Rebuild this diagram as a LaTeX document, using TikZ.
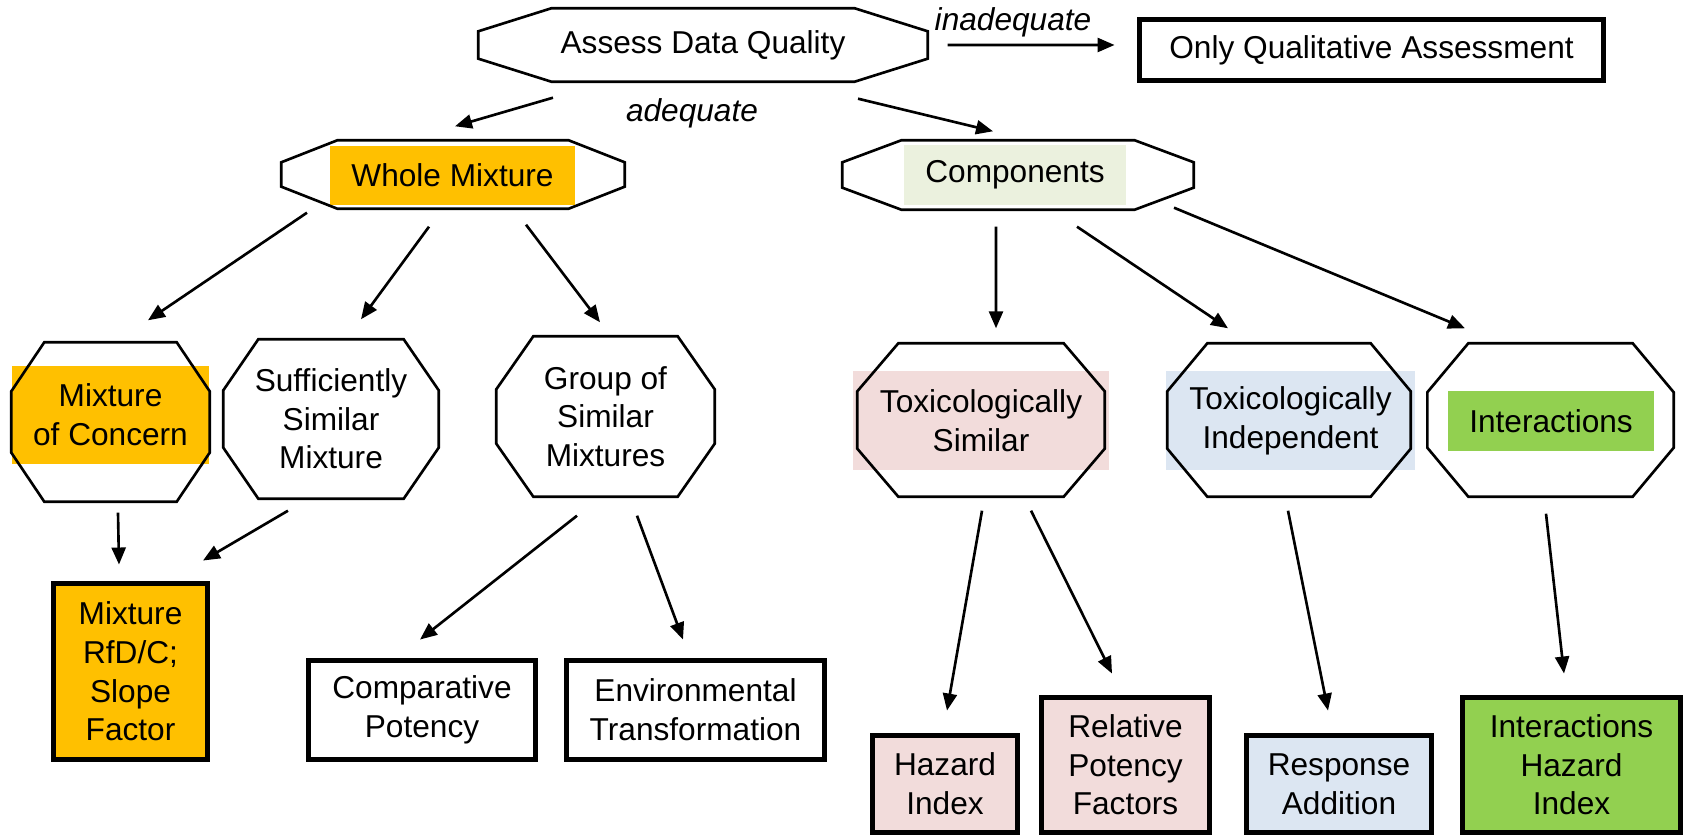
\documentclass[tikz,border=0pt]{standalone}
\usepackage{fontspec}
\setmainfont{Liberation Sans}
\usetikzlibrary{arrows.meta}

\definecolor{wmorange}{HTML}{FFC000}
\definecolor{compgreen}{HTML}{EBF1DE}
\definecolor{tspink}{HTML}{F2DCDB}
\definecolor{tiblue}{HTML}{DCE6F2}
\definecolor{intgreen}{HTML}{92D050}

\tikzset{
every node/.style={
font=\fontsize{9}{11}\selectfont
}}

% octagon round a node: name, x cut, y cut
\newcommand\octframe[3]{%
\draw[line width=0.75pt] ([xshift=#2]#1.north west) -- ([xshift=-#2]#1.north east)
  -- ([yshift=-#3]#1.north east) -- ([yshift=#3]#1.south east)
  -- ([xshift=-#2]#1.south east) -- ([xshift=#2]#1.south west)
  -- ([yshift=#3]#1.south west) -- ([yshift=-#3]#1.north west) -- cycle;}

\begin{document}
\begin{tikzpicture}[x=1cm, y=-1cm,
oct/.style = {rectangle, inner sep=0pt, align=center},
hl/.style = {rectangle, fill=#1, inner sep=0pt, align=center},
res/.style = {rectangle, draw=black, line width=1.4pt, inner sep=0pt, align=center},
lbl/.style = {font=\fontsize{9}{11}\selectfont\itshape},
arr/.style = {line width=0.75pt, -{Triangle[length=1.7mm,width=1.4mm]}}]

\useasboundingbox (0,0) rectangle (16.89,8.38);

\node[oct, minimum width=4.48cm, minimum height=0.72cm] (ad) at (7.03,0.45) {Assess Data Quality};
\octframe{ad}{7.3mm}{2.3mm}
\node[res, minimum width=4.64cm, minimum height=0.61cm] (oqa) at (13.715,0.50) {Only Qualitative Assessment};
\node[lbl] (inad) at (10.13,0.22) {inadequate};
\node[lbl] (adeq) at (6.92,1.13) {adequate};

\node[hl=wmorange, minimum width=2.45cm, minimum height=0.59cm] (wm) at (4.525,1.755) {Whole Mixture};
\node[oct, minimum width=3.42cm, minimum height=0.67cm] (wm-o) at (4.53,1.745) {};
\octframe{wm-o}{5.6mm}{2.2mm}
\node[hl=compgreen, minimum width=2.22cm, minimum height=0.60cm] (comp) at (10.15,1.75) {Components};
\node[oct, minimum width=3.50cm, minimum height=0.68cm] (comp-o) at (10.18,1.75) {};
\octframe{comp-o}{5.9mm}{2.2mm}

% whole mixture side
\node[hl=wmorange, minimum width=1.97cm, minimum height=0.98cm] (moc) at (1.105,4.15) {Mixture\\of Concern};
\node[oct, minimum width=1.97cm, minimum height=1.58cm] (moc-o) at (1.105,4.22) {};
\octframe{moc-o}{3.3mm}{4.9mm}
\node[oct, minimum width=2.14cm, minimum height=1.58cm] (ssm) at (3.31,4.19) {Sufficiently\\Similar\\Mixture};
\octframe{ssm}{3.5mm}{5.1mm}
\node[oct, minimum width=2.17cm, minimum height=1.59cm] (gsm) at (6.055,4.165) {Group of\\Similar\\Mixtures};
\octframe{gsm}{3.7mm}{5.3mm}

% components side
\node[hl=tspink, minimum width=2.56cm, minimum height=0.99cm] (ts) at (9.81,4.205) {Toxicologically\\Similar};
\node[oct, minimum width=2.46cm, minimum height=1.52cm] (ts-o) at (9.81,4.20) {};
\octframe{ts-o}{4.1mm}{4.8mm}
\node[hl=tiblue, minimum width=2.49cm, minimum height=0.99cm] (ti) at (12.905,4.205) {Toxicologically\\Independent};
\node[oct, minimum width=2.42cm, minimum height=1.52cm] (ti-o) at (12.89,4.20) {};
\octframe{ti-o}{4.0mm}{4.8mm}
\node[hl=intgreen, minimum width=2.06cm, minimum height=0.60cm] (int) at (15.51,4.21) {Interactions};
\node[oct, minimum width=2.45cm, minimum height=1.52cm] (int-o) at (15.505,4.20) {};
\octframe{int-o}{4.1mm}{4.9mm}

% results
\node[res, fill=wmorange, minimum width=1.54cm, minimum height=1.76cm] (rfd) at (1.305,6.715) {Mixture\\RfD/C;\\Slope\\Factor};
\node[res, minimum width=2.27cm, minimum height=0.99cm] (cp) at (4.22,7.10) {Comparative\\Potency};
\node[res, minimum width=2.58cm, minimum height=0.99cm] (et) at (6.955,7.10) {Environmental\\Transformation};
\node[res, fill=tspink, minimum width=1.45cm, minimum height=0.97cm] (hi) at (9.45,7.84) {Hazard\\Index};
\node[res, fill=tspink, minimum width=1.68cm, minimum height=1.35cm] (rpf) at (11.255,7.65) {Relative\\Potency\\Factors};
\node[res, fill=tiblue, minimum width=1.85cm, minimum height=0.97cm] (ra) at (13.39,7.84) {Response\\Addition};
\node[res, fill=intgreen, minimum width=2.18cm, minimum height=1.35cm] (ihi) at (15.715,7.65) {Interactions\\Hazard\\Index};

\draw[arr] ([xshift=2mm]ad.east) -- ([shift={(-0.225,-0.05)}]oqa.west);
\draw[arr] ([shift={(-1.50,0.16)}]ad.south) -- ([shift={(0.02,-0.14)}]wm-o.north);
\draw[arr] ([shift={(1.55,0.17)}]ad.south) -- ([shift={(-0.25,-0.09)}]comp-o.north);

\draw[arr] ([shift={(-1.46,0.04)}]wm-o.south) -- ([shift={(0.375,-0.22)}]moc-o.north);
\draw[arr] ([shift={(-0.24,0.18)}]wm-o.south) -- ([shift={(0.30,-0.20)}]ssm.north);
\draw[arr] ([shift={(0.73,0.16)}]wm-o.south) -- ([shift={(-0.055,-0.14)}]gsm.north);
\draw[arr] ([shift={(-0.22,0.17)}]comp-o.south) -- ([shift={(0.15,-0.15)}]ts-o.north);
\draw[arr] ([shift={(0.59,0.17)}]comp-o.south) -- ([shift={(-0.61,-0.15)}]ti-o.north);
\draw[arr] ([shift={(1.56,-0.02)}]comp-o.south) -- ([shift={(-0.855,-0.15)}]int-o.north);

\draw[arr] ([shift={(0.075,0.11)}]moc-o.south) -- ([shift={(-0.115,-0.165)}]rfd.north);
\draw[arr] ([shift={(-0.43,0.12)}]ssm.south) -- ([shift={(0.725,-0.205)}]rfd.north);
\draw[arr] ([shift={(-0.285,0.19)}]gsm.south) -- ([shift={(-0.02,-0.185)}]cp.north);
\draw[arr] ([shift={(0.315,0.19)}]gsm.south) -- ([shift={(-0.125,-0.185)}]et.north);
\draw[arr] ([shift={(0.01,0.14)}]ts-o.south) -- ([shift={(0.02,-0.225)}]hi.north);
\draw[arr] ([shift={(0.50,0.14)}]ts-o.south) -- ([shift={(-0.135,-0.215)}]rpf.north);
\draw[arr] ([shift={(-0.01,0.14)}]ti-o.south) -- ([shift={(-0.11,-0.225)}]ra.north);
\draw[arr] ([shift={(-0.045,0.17)}]int-o.south) -- ([shift={(-0.075,-0.215)}]ihi.north);
\end{tikzpicture}
\end{document}
